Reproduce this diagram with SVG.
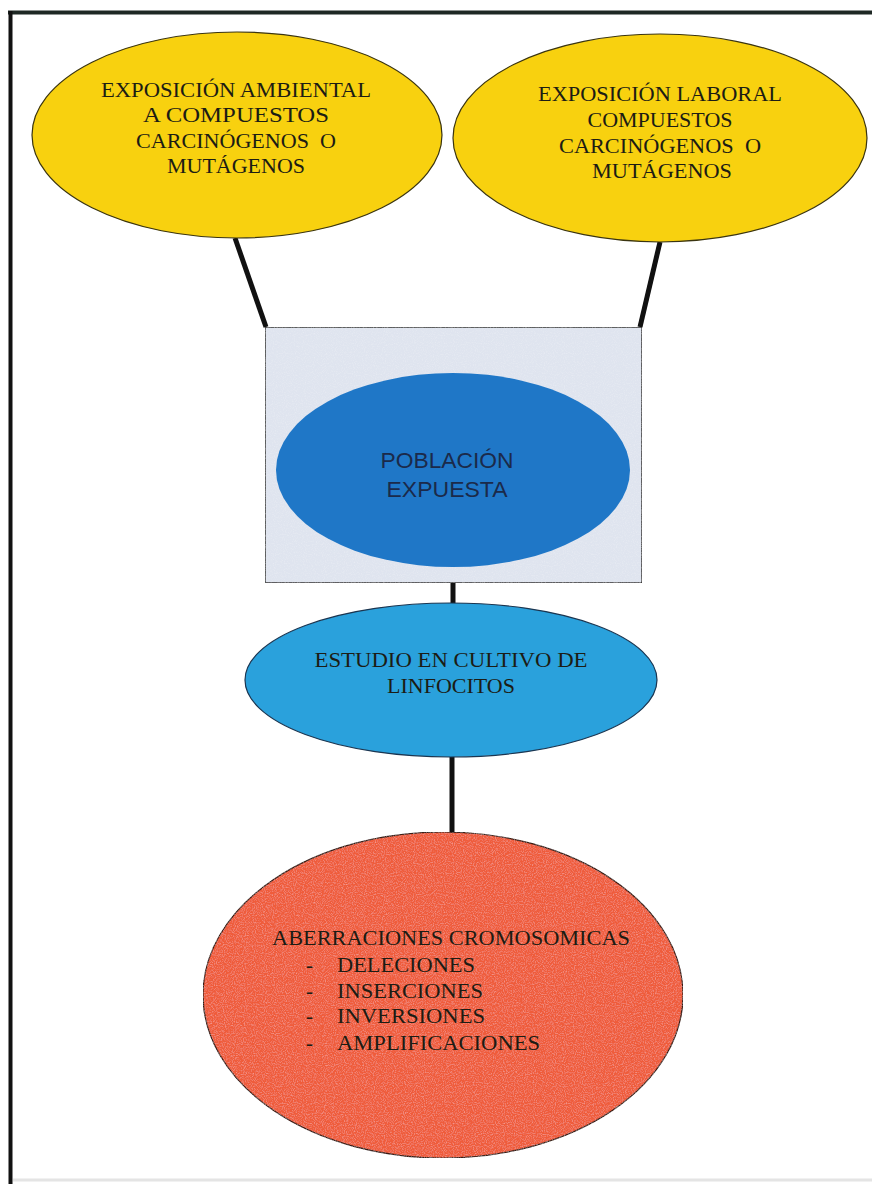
<svg xmlns="http://www.w3.org/2000/svg" width="872" height="1184" viewBox="0 0 872 1184">
  <style>
    .serif { font-family: "Liberation Serif", "Times New Roman", serif; font-size: 21px; fill: #1c1c14; }
    .sans { font-family: "Liberation Sans", Arial, sans-serif; font-size: 22px; fill: #1b2a4a; }
    .link { stroke: #111111; stroke-width: 5; stroke-linecap: butt; fill: none; }
    .yellow { fill: #f8d10f; stroke: #3a3410; stroke-width: 1.2; }
    .cyan { fill: #2aa1dc; stroke: #1b3550; stroke-width: 1.2; }
    .blue { fill: #1f77c7; }
    .red { fill: #ef5b3b; stroke: #3a1a12; stroke-width: 1.2; }
    .panel { fill: #dfe4ef; stroke: #333333; stroke-width: 1.5; }
  </style>
  <defs>
    <!-- fine speckle texture for the panel and the lower ellipse -->
    <filter id="grain" x="0" y="0" width="100%" height="100%">
      <feTurbulence type="fractalNoise" baseFrequency="0.9" numOctaves="2" seed="3" result="n"/>
      <feColorMatrix in="n" type="matrix" values="0 0 0 0 1  0 0 0 0 1  0 0 0 0 1  0 0 0 0.5 -0.22" result="w"/>
      <feComposite in="w" in2="SourceGraphic" operator="in" result="speck"/>
      <feMerge><feMergeNode in="SourceGraphic"/><feMergeNode in="speck"/></feMerge>
    </filter>
  </defs>

  <rect width="872" height="1184" fill="#ffffff"/>

  <!-- page frame -->
  <g id="frame">
    <line x1="8" y1="12.5" x2="872" y2="12.5" stroke="#1e2824" stroke-width="4"/>
    <line x1="10.5" y1="11" x2="10.5" y2="1184" stroke="#111111" stroke-width="4"/>
    <line x1="13" y1="1180" x2="872" y2="1180" stroke="#e4e4e4" stroke-width="3"/>
  </g>

  <!-- connectors -->
  <g id="connectors">
    <line class="link" x1="235" y1="238" x2="266" y2="327"/>
    <line class="link" x1="660" y1="242" x2="640" y2="327"/>
    <line class="link" x1="453" y1="583" x2="453" y2="605"/>
    <line class="link" x1="452" y1="756" x2="452" y2="834"/>
  </g>

  <g id="node-ambiental">
    <ellipse class="yellow" cx="237" cy="135" rx="205" ry="103"/>
    <text class="serif" text-anchor="middle" x="236" y="97" textLength="270" lengthAdjust="spacingAndGlyphs">EXPOSICIÓN AMBIENTAL</text>
    <text class="serif" text-anchor="middle" x="236" y="122" textLength="186" lengthAdjust="spacingAndGlyphs">A COMPUESTOS</text>
    <text class="serif" text-anchor="middle" x="236" y="148" textLength="200" lengthAdjust="spacingAndGlyphs" xml:space="preserve">CARCINÓGENOS  O</text>
    <text class="serif" text-anchor="middle" x="236" y="173" textLength="138" lengthAdjust="spacingAndGlyphs">MUTÁGENOS</text>
  </g>

  <g id="node-laboral">
    <ellipse class="yellow" cx="660" cy="138" rx="207" ry="104"/>
    <text class="serif" text-anchor="middle" x="660" y="101" textLength="244" lengthAdjust="spacingAndGlyphs">EXPOSICIÓN LABORAL</text>
    <text class="serif" text-anchor="middle" x="660" y="127" textLength="145" lengthAdjust="spacingAndGlyphs">COMPUESTOS</text>
    <text class="serif" text-anchor="middle" x="660" y="153" textLength="202" lengthAdjust="spacingAndGlyphs" xml:space="preserve">CARCINÓGENOS  O</text>
    <text class="serif" text-anchor="middle" x="662" y="178" textLength="140" lengthAdjust="spacingAndGlyphs">MUTÁGENOS</text>
  </g>

  <g id="node-poblacion">
    <rect class="panel" x="265" y="327" width="377" height="256" filter="url(#grain)"/>
    <ellipse class="blue" cx="453" cy="470" rx="177" ry="97"/>
    <text class="sans" text-anchor="middle" x="447" y="468" textLength="133" lengthAdjust="spacingAndGlyphs">POBLACIÓN</text>
    <text class="sans" text-anchor="middle" x="447" y="497" textLength="121" lengthAdjust="spacingAndGlyphs">EXPUESTA</text>
  </g>

  <g id="node-cultivo">
    <ellipse class="cyan" cx="451" cy="680" rx="206" ry="77"/>
    <text class="serif" text-anchor="middle" x="451" y="667" textLength="273" lengthAdjust="spacingAndGlyphs">ESTUDIO EN CULTIVO DE</text>
    <text class="serif" text-anchor="middle" x="451" y="693" textLength="128" lengthAdjust="spacingAndGlyphs">LINFOCITOS</text>
  </g>

  <g id="node-aberraciones">
    <ellipse class="red" cx="443" cy="995" rx="240" ry="163" filter="url(#grain)"/>
    <text class="serif" x="272" y="945" textLength="358" lengthAdjust="spacingAndGlyphs">ABERRACIONES CROMOSOMICAS</text>
    <text class="serif" x="306" y="972">-</text>
    <text class="serif" x="337" y="972" textLength="138" lengthAdjust="spacingAndGlyphs">DELECIONES</text>
    <text class="serif" x="306" y="998">-</text>
    <text class="serif" x="337" y="998" textLength="146" lengthAdjust="spacingAndGlyphs">INSERCIONES</text>
    <text class="serif" x="306" y="1023">-</text>
    <text class="serif" x="337" y="1023" textLength="148" lengthAdjust="spacingAndGlyphs">INVERSIONES</text>
    <text class="serif" x="306" y="1050">-</text>
    <text class="serif" x="337" y="1050" textLength="203" lengthAdjust="spacingAndGlyphs">AMPLIFICACIONES</text>
  </g>
</svg>
